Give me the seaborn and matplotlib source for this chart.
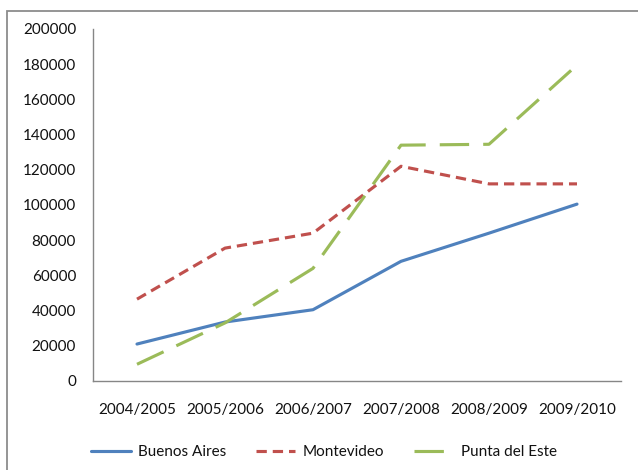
import numpy as np
import pandas as pd
import seaborn as sns
import matplotlib.pyplot as plt
from matplotlib.patches import Rectangle
from matplotlib.ticker import FixedLocator

# season labels and visitor counts per city
seasons = ['2004/2005', '2005/2006', '2006/2007', '2007/2008', '2008/2009', '2009/2010']
buenos_aires = [21000, 33500, 40500, 68000, 84000, 100500]
montevideo = [46500, 75500, 84000, 122000, 112000, 112000]
punta_del_este = [9500, 33000, 64000, 134000, 134500, 179500]
cities = ['Buenos Aires', 'Montevideo', 'Punta del Este']

# bring into long format for seaborn
df = pd.DataFrame({
    'season': seasons * 3,
    'pos': list(range(len(seasons))) * 3,
    'value': buenos_aires + montevideo + punta_del_este,
    'city': [c for c in cities for _ in seasons],
})

sns.set_style('white')
plt.rcParams['font.family'] = ['Lato', 'DejaVu Sans']
fs = 11

fig = plt.figure(figsize=(6.38, 4.70), dpi=100)
ax = fig.add_axes([93/638, 1-381/470, (621-93)/638, (381-29)/470])

palette = {'Buenos Aires': '#4F81BD', 'Montevideo': '#C0504D', 'Punta del Este': '#9BBB59'}
dashes = {'Buenos Aires': '', 'Montevideo': (3.3, 1.9), 'Punta del Este': (9.4, 4.5)}
sns.lineplot(data=df, x='pos', y='value', hue='city', style='city',
             palette=palette, dashes=dashes, linewidth=2.25, ax=ax, legend=True)

# axis limits and ticks like an excel category axis
ax.set_xlim(-0.5, len(seasons) - 0.5)
ax.set_ylim(0, 200000)
ax.set_yticks(np.arange(0, 200001, 20000))
ax.set_yticklabels([str(v) for v in range(0, 200001, 20000)])
ax.xaxis.set_major_locator(FixedLocator(np.arange(-0.5, len(seasons), 1.0)))
ax.set_xticklabels([])
ax.xaxis.set_minor_locator(FixedLocator(np.arange(len(seasons))))
ax.set_xticklabels(seasons, minor=True)
ax.tick_params(axis='x', which='major', length=3, width=1, color='#868686', direction='out')
ax.tick_params(axis='x', which='minor', length=0, pad=15.5, labelsize=fs, labelcolor='#111111')
ax.tick_params(axis='y', length=3.6, width=1, color='#868686', direction='out', pad=8.6,
               labelsize=fs, labelcolor='#111111')
ax.set_xlabel('')
ax.set_ylabel('')

for side in ['top', 'right']:
    ax.spines[side].set_visible(False)
for side in ['left', 'bottom']:
    ax.spines[side].set_color('#868686')
    ax.spines[side].set_linewidth(1)

# legend below the plot
handles, labels = ax.get_legend_handles_labels()
ax.get_legend().remove()
for h in handles:
    h.set_linewidth(2.25)
fig.legend(handles, labels, loc='center', bbox_to_anchor=(324/638, 1-452/470), ncol=3,
           frameon=False, fontsize=fs, labelcolor='#111111', handlelength=2.6,
           handletextpad=0.5, columnspacing=1.9)

# chart area border, cut off on the right and bottom
fig.add_artist(Rectangle((7/638, -0.1), 1.2, 1-11/470+0.1, transform=fig.transFigure,
                         fill=False, edgecolor='#8c8c8c', linewidth=1.3, clip_on=False))

fig.savefig('out.png', dpi=100)
